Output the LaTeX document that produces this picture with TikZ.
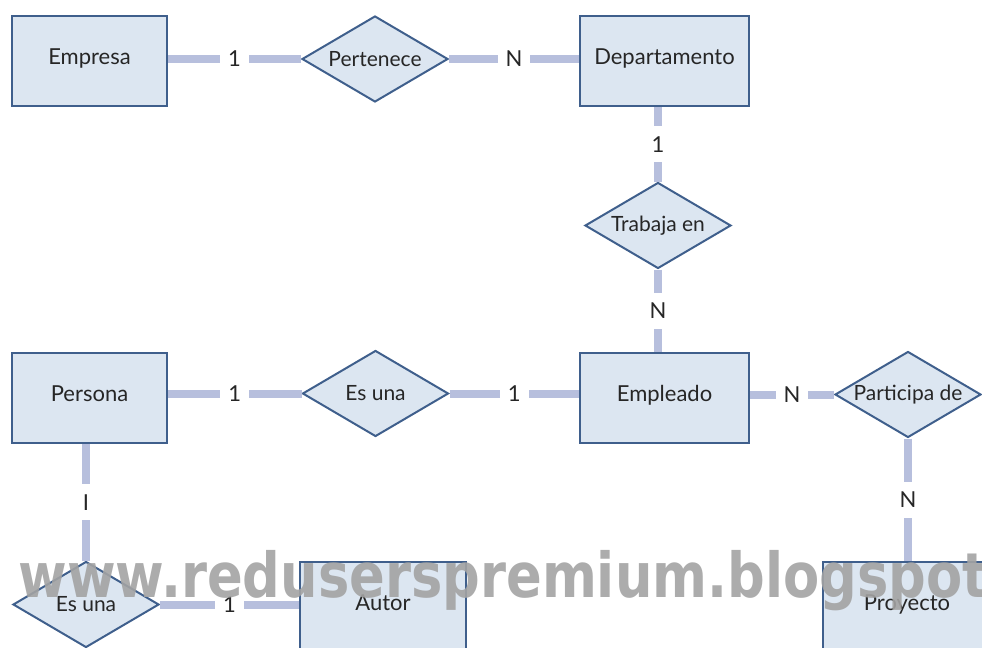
\documentclass[tikz,border=0pt]{standalone}
\usepackage{fontspec}
\setmainfont{Lato}
\newfontfamily\marcafont{DejaVu Sans}
\usetikzlibrary{shapes.geometric}
\definecolor{azulfondo}{HTML}{DCE6F1}
\definecolor{azulborde}{HTML}{3F5F8C}
\definecolor{lineagris}{HTML}{B7BFDD}
\definecolor{texto}{HTML}{262626}
\definecolor{marca}{HTML}{A3A3A3}

\begin{document}
\begin{tikzpicture}[x=0.5pt,y=-0.5pt,
	    entidad/.style={draw=azulborde,fill=azulfondo,line width=1pt,minimum width=#1,minimum height=45pt,inner sep=0pt,text height=7.5pt,text depth=4pt,text=texto,font=\fontsize{11}{13}\selectfont},
	    entidad/.default=77.5pt,
	    relacion/.style={diamond,aspect=1.7,draw=azulborde,fill=azulfondo,line width=1pt,minimum width=73pt,minimum height=43pt,inner sep=0pt,text=texto,font=\fontsize{10.5}{12}\selectfont},
	    conector/.style={line width=4pt,lineagris},
	    card/.style={fill=white,text=texto,inner xsep=4pt,inner ysep=5pt,font=\fontsize{11}{13}\selectfont}]
	    \useasboundingbox (0,0) rectangle (982,648);
	    \clip (0,0) rectangle (982,648);
	    % entidades
	    \node[entidad] (emp) at (89.5,60.5) {Empresa};
	    \node[entidad=84.5pt] (dep) at (664.5,61) {Departamento};
	    \node[entidad] (pers) at (89.5,398) {Persona};
	    \node[entidad=84.5pt] (empl) at (664.5,398) {Empleado};
	    \node[entidad=83pt] (autor) at (383,607) {Autor};
	    \node[entidad=84pt] (proy) at (907,607) {Proyecto};
	    % relaciones
	    \node[relacion] (pert) at (375,59) {Pertenece};
	    \node[relacion] (trab) at (658,225.5) {Trabaja en};
	    \node[relacion] (esuna) at (375.5,393.5) {Es una};
	    \node[relacion] (part) at (908,394.5) {Participa de};
	    \node[relacion] (esunab) at (86,604.5) {Es una};
	    % conectores
	    \draw[conector] (pert.west) -- node[card] {1} (pert.west -| emp.east);
	    \draw[conector] (pert.east) -- node[card] {N} (pert.east -| dep.west);
	    \draw[conector] (trab.north) -- node[card] {1} (trab.north |- dep.south);
	    \draw[conector] (trab.south) -- node[card] {N} (trab.south |- empl.north);
	    \draw[conector] (esuna.west) -- node[card] {1} (esuna.west -| pers.east);
	    \draw[conector] (esuna.east) -- node[card] {1} (esuna.east -| empl.west);
	    \draw[conector] (part.west) -- node[card] {N} (part.west -| empl.east);
	    \draw[conector] (part.south) -- node[card] {N} (part.south |- proy.north);
	    \draw[conector] (esunab.north) -- node[card] {I} (esunab.north |- pers.south);
	    \draw[conector] (esunab.east) -- node[card] {1} (esunab.east -| autor.west);
	    % marca de agua
	    \node[anchor=base west,inner sep=0pt,text=marca,opacity=0.9] (marca) at (18,597) {\scalebox{0.85}[1]{\marcafont\bfseries\fontsize{31}{31}\selectfont www.reduserspremium.blogspot}};
	\end{tikzpicture}
\end{document}
